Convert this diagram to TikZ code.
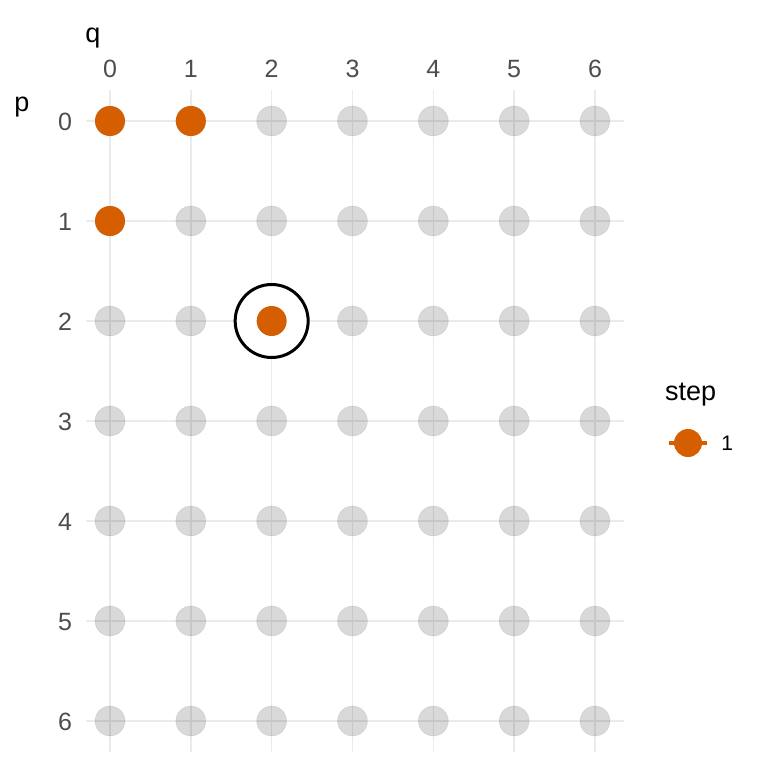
\documentclass[tikz,border=0pt]{standalone}
\usepackage{fontspec}
\setmainfont{Liberation Sans}
\usetikzlibrary{positioning}
\definecolor{StepOrange}{RGB}{213,94,0}
\definecolor{GridGray}{RGB}{235,235,235}
\definecolor{TickGray}{RGB}{77,77,77}

\begin{document}
\begin{tikzpicture}[
  x=1pt, y=-1pt,
  gridline/.style={draw=GridGray, line width=1.6pt},
  cell/.style={circle, fill=black, fill opacity=0.15, draw=black,
               draw opacity=0.08, line width=0.6pt, minimum size=30pt, inner sep=0pt},
  visited/.style={circle, fill=StepOrange, minimum size=30pt, inner sep=0pt},
  ring/.style={circle, draw=black, line width=3pt, fill=white,
               minimum size=73pt, inner sep=0pt},
  ticklabel/.style={text=TickGray, font=\fontsize{25}{25}\selectfont, inner sep=0pt},
  axistitle/.style={font=\fontsize{27}{27}\selectfont, inner sep=0pt}
]
\useasboundingbox (0,0) rectangle (768,768);

% Panel grid.
\foreach \q in {0,...,6}
  \draw[gridline] ({110+80.83*\q},90) -- ({110+80.83*\q},752);
\foreach \p in {0,...,6}
  \draw[gridline] (86,{121+100*\p}) -- (624,{121+100*\p});

% All cells.
\foreach \q in {0,...,6}
  \foreach \p in {0,...,6}
    \node[cell] (cell-\q-\p) at ({110+80.83*\q},{121+100*\p}) {};

% Current cell and visited cells.
\node[ring] (current) at (cell-2-2) {};
\node[visited] (hit-0-0) at (cell-0-0) {};
\node[visited] (hit-1-0) at (cell-1-0) {};
\node[visited] (hit-0-1) at (cell-0-1) {};
\node[visited] (hit-2-2) at (cell-2-2) {};

% Axes.
\foreach \q in {0,...,6}
  \node[ticklabel] (qtick\q) at ({110+80.83*\q},69) {\q};
\foreach \p in {0,...,6}
  \node[ticklabel] (ptick\p) at (65,{122+100*\p}) {\p};
\node[axistitle] (qtitle) at (93,38) {q};
\node[axistitle] (ptitle) at (22,107) {p};

% Legend.
\node[axistitle, anchor=west] (legtitle) at (665,395) {step};
\node[visited, minimum size=28pt] (keydot) at (688,443) {};
\draw[StepOrange, line width=4.5pt] ([xshift=-5pt]keydot.west) -- ([xshift=5pt]keydot.east);
\node[font=\fontsize{21}{21}\selectfont, inner sep=0pt, right=19pt of keydot] (keytext) {1};

\end{tikzpicture}
\end{document}
